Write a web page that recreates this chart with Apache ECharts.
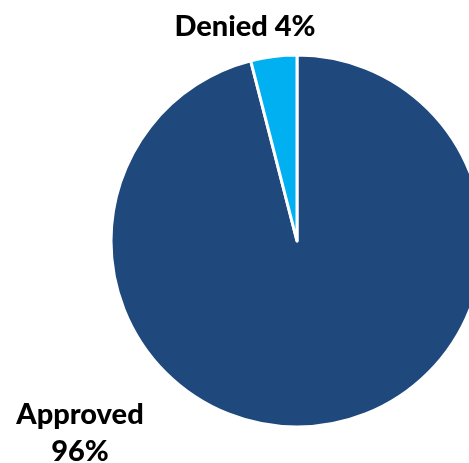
<!DOCTYPE html>
<html>
<head>
<meta charset="utf-8">
<script src="https://cdn.jsdelivr.net/npm/echarts@6/dist/echarts.min.js"></script>
<style>
  html, body { margin: 0; padding: 0; background: #fff; }
  #chart { width: 469px; height: 463px; }
</style>
</head>
<body>
<div id="chart"></div>
<script>
// 数据
const categories = ["Approved", "Denied"];
const values = [96, 4];
const colors = ["#1F497D", "#00B0F0"];

const chart = echarts.init(document.getElementById("chart"));

const option = {
  animation: false,
  series: [
    {
      type: "pie",
      center: [297, 241],
      radius: [0, 186],
      startAngle: 90,
      clockwise: true,
      itemStyle: {
        borderColor: "#fff",
        borderWidth: 3,
      },
      label: {
        show: true,
        position: "outside",
        fontFamily: "Lato",
        fontWeight: 900,
        fontSize: 29,
        color: "#000",
        lineHeight: 37,
        align: "center",
        overflow: "none",
        formatter: (p) =>
          p.dataIndex === 0 ? p.name + "\n" + p.value + "%" : p.name + " " + p.value + "%",
      },
      labelLine: { show: false },
      // 标签位置手动放
      labelLayout: (params) =>
        params.dataIndex === 0
          ? { x: 80, y: 433, align: "center", verticalAlign: "middle" }
          : { x: 245, y: 27, align: "center", verticalAlign: "middle" },
      data: categories.map((name, i) => ({
        name: name,
        value: values[i],
        itemStyle: { color: colors[i] },
      })),
    },
  ],
};

chart.setOption(option);
</script>
</body>
</html>
